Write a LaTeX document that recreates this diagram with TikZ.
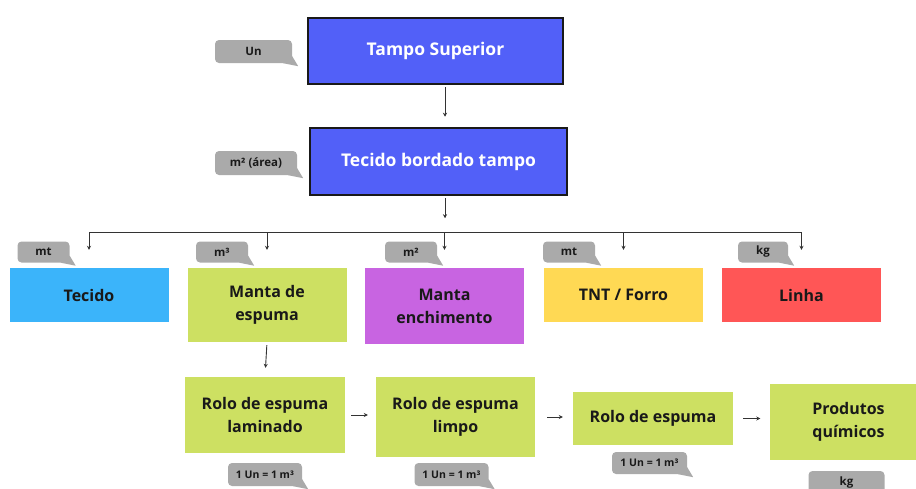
\documentclass[tikz,border=0pt]{standalone}
\usepackage{fontspec}
\setmainfont{Open Sans}
\usetikzlibrary{arrows.meta, positioning, calc}
\definecolor{topblue}{RGB}{82, 96, 248}
\definecolor{fabricblue}{RGB}{59, 180, 250}
\definecolor{foamgreen}{RGB}{205, 224, 98}
\definecolor{fillpurple}{RGB}{200, 100, 225}
\definecolor{tntyellow}{RGB}{255, 217, 84}
\definecolor{threadred}{RGB}{255, 86, 86}
\definecolor{taggray}{RGB}{170, 170, 170}

\begin{document}
\begin{tikzpicture}[
    x=1pt, y=-1pt,
    topbox/.style={draw=black!90, line width=2.5pt, fill=topblue, text=white, font=\fontsize{17.5}{21}\selectfont\bfseries, minimum width=255pt, minimum height=66pt},
    matbox/.style={fill=#1, text=black!90, font=\fontsize{16}{23}\selectfont\bfseries, align=center, minimum width=159pt, inner sep=0pt},
    unit/.style={fill=taggray, rounded corners=4pt, text=black!90, font=\fontsize{11.5}{13}\selectfont\bfseries, minimum height=21pt, inner sep=0pt},
    link/.style={draw=black!80, line width=0.9pt},
    arrow/.style={link, -{Stealth[length=4pt, width=4pt]}}
]
    \useasboundingbox (0, 0) rectangle (916, 488);
    \clip (0, 0) rectangle (916, 488);

    % Top boxes
    \node[topbox] (tampo) at (435.5, 51) {Tampo Superior};
    \node[topbox, minimum width=257pt, minimum height=67pt] (bordado) at (438.5, 161.5) {Tecido bordado tampo};
    \node[unit, minimum width=77pt, minimum height=23pt] (tagun) at (253.5, 51.5) {Un};
    \node[unit, minimum width=82pt, minimum height=24pt] (tagarea) at (256, 163) {m² (área)};

    % Materials
    \node[matbox=fabricblue, minimum height=54pt] (tecido) at (89, 295) {Tecido};
    \node[matbox=foamgreen, minimum height=74pt] (mantaesp) at (267, 305) {Manta de\\espuma};
    \node[matbox=fillpurple, minimum height=76pt] (mantaench) at (444.5, 306) {Manta\\enchimento};
    \node[matbox=tntyellow, minimum height=54pt] (tnt) at (623.5, 295) {TNT / Forro};
    \node[matbox=threadred, minimum height=54pt] (linha) at (801.5, 295) {Linha};

    \node[unit, minimum width=52pt] (tagtecido) at (43.5, 252) {mt};
    \node[unit, minimum width=52pt] (tagesp) at (222, 252) {m³};
    \node[unit, minimum width=52pt] (tagench) at (411, 252) {m²};
    \node[unit, minimum width=52pt] (tagtnt) at (569, 252) {mt};
    \node[unit, minimum width=50pt] (taglinha) at (763, 252) {kg};

    % Foam chain
    \node[matbox=foamgreen, minimum width=160pt, minimum height=76pt] (laminado) at (265, 415) {Rolo de espuma\\laminado};
    \node[matbox=foamgreen, minimum height=80pt] (limpo) at (455.5, 417) {Rolo de espuma\\limpo};
    \node[matbox=foamgreen, minimum width=160pt, minimum height=53pt] (rolo) at (653, 418.5) {Rolo de espuma};
    \node[matbox=foamgreen, minimum width=158pt, minimum height=76pt] (quimicos) at (848.5, 422) {Produtos\\químicos};

    \node[unit, font=\fontsize{10.5}{12}\selectfont\bfseries, minimum width=74pt, minimum height=23pt] (taglam) at (265, 474.5) {1 Un = 1 m³};
    \node[unit, font=\fontsize{10.5}{12}\selectfont\bfseries, minimum width=74pt, minimum height=23pt] (taglimpo) at (451.5, 474.5) {1 Un = 1 m³};
    \node[unit, font=\fontsize{10.5}{12}\selectfont\bfseries, minimum width=75pt, minimum height=22pt] (tagrolo) at (649.5, 463) {1 Un = 1 m³};
    \node[unit, minimum width=76pt, minimum height=23pt] (tagquim) at (846.5, 482.5) {kg};

    % Tag tails
    \foreach \t in {tagun, tagarea, tagtecido, tagesp, tagench, tagtnt, taglinha, taglam, taglimpo, tagrolo}
        \fill[taggray] ($(\t.south east)+(-9, 0)$) -- ($(\t.south east)+(6, 3)$) -- ($(\t.south east)+(0, -7)$) -- cycle;

    % Connectors
    \draw[arrow, shorten <=2pt, shorten >=10pt] ($(tampo.south)+(9.5, 0)$) -- ($(bordado.north)+(6.5, 0)$);
    \coordinate (split) at ($(bordado.south)+(6.5, 22)$);
    \draw[arrow, shorten <=2pt] ($(bordado.south)+(6.5, 0)$) -- (split);
    \coordinate (bus) at (0, 232);
    \draw[link] (tecido.north |- bus) -- (linha.north |- bus);
    \foreach \n in {tecido, mantaesp, mantaench, tnt, linha}
        \draw[arrow, shorten >=18pt] (\n.north |- bus) -- (\n.north);

    \draw[arrow, shorten <=3pt, shorten >=9pt] (mantaesp.south) -- (laminado.north);
    \draw[arrow, shorten <=6pt, shorten >=8pt] (laminado.east) -- (laminado.east -| limpo.west);
    \draw[arrow, shorten <=12pt, shorten >=10pt] (limpo.east) -- (limpo.east -| rolo.west);
    \draw[arrow, shorten <=10pt, shorten >=9pt] (rolo.east) -- (rolo.east -| quimicos.west);

\end{tikzpicture}
\end{document}
